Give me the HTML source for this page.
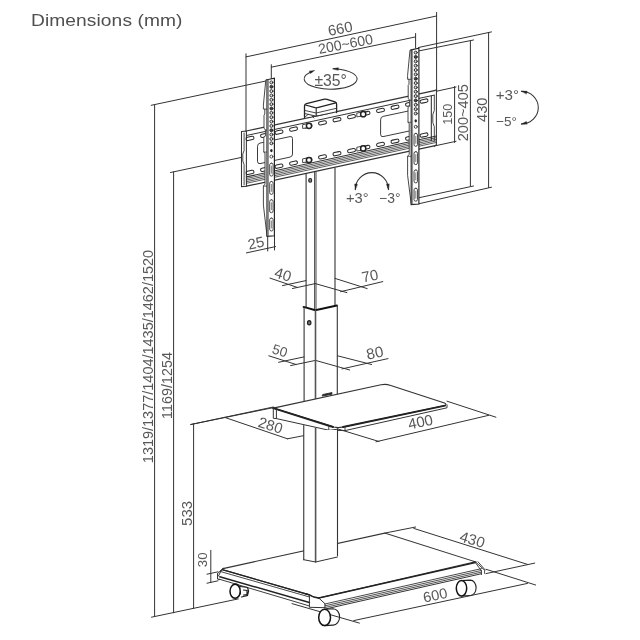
<!DOCTYPE html>
<html><head><meta charset="utf-8"><style>
html,body{margin:0;padding:0;background:#fff;width:640px;height:640px;overflow:hidden}
svg{position:absolute;left:0;top:0;will-change:transform}
text{font-family:"Liberation Sans",sans-serif}
</style></head><body>
<svg width="640" height="640" viewBox="0 0 640 640" stroke-linecap="round">
<line x1="151.20" y1="105.30" x2="266.00" y2="81.00" stroke="#333" stroke-width="1.0"/>
<line x1="154.60" y1="105.00" x2="154.60" y2="616.60" stroke="#333" stroke-width="1.0"/>
<line x1="170.50" y1="172.50" x2="241.50" y2="157.40" stroke="#333" stroke-width="1.0"/>
<line x1="173.60" y1="172.00" x2="173.60" y2="612.80" stroke="#333" stroke-width="1.0"/>
<line x1="190.80" y1="424.50" x2="274.00" y2="407.50" stroke="#333" stroke-width="1.0"/>
<line x1="193.60" y1="424.00" x2="193.60" y2="608.60" stroke="#333" stroke-width="1.0"/>
<line x1="151.50" y1="617.20" x2="238.30" y2="598.90" stroke="#333" stroke-width="1.0"/>
<line x1="210.80" y1="550.30" x2="210.80" y2="582.50" stroke="#333" stroke-width="1.0"/>
<line x1="207.00" y1="574.20" x2="218.00" y2="571.80" stroke="#333" stroke-width="1.0"/>
<line x1="207.00" y1="583.20" x2="218.00" y2="580.80" stroke="#333" stroke-width="1.0"/>
<line x1="246.00" y1="56.90" x2="436.50" y2="16.00" stroke="#333" stroke-width="1.0"/>
<line x1="246.00" y1="53.80" x2="246.00" y2="131.00" stroke="#333" stroke-width="1.0"/>
<line x1="436.60" y1="12.50" x2="436.60" y2="92.00" stroke="#333" stroke-width="1.0"/>
<line x1="271.30" y1="67.20" x2="415.60" y2="36.90" stroke="#333" stroke-width="1.0"/>
<line x1="271.30" y1="64.70" x2="271.30" y2="79.00" stroke="#333" stroke-width="1.0"/>
<line x1="415.60" y1="33.50" x2="415.60" y2="48.00" stroke="#333" stroke-width="1.0"/>
<line x1="418.50" y1="47.50" x2="491.50" y2="31.90" stroke="#333" stroke-width="1.0"/>
<line x1="488.60" y1="32.50" x2="488.60" y2="187.50" stroke="#333" stroke-width="1.0"/>
<line x1="418.70" y1="203.80" x2="491.50" y2="187.20" stroke="#333" stroke-width="1.0"/>
<line x1="418.50" y1="51.00" x2="473.50" y2="40.00" stroke="#333" stroke-width="1.0"/>
<line x1="470.40" y1="41.00" x2="470.40" y2="186.00" stroke="#333" stroke-width="1.0"/>
<line x1="418.70" y1="197.80" x2="473.50" y2="186.00" stroke="#333" stroke-width="1.0"/>
<line x1="436.60" y1="91.20" x2="456.00" y2="87.00" stroke="#333" stroke-width="1.0"/>
<line x1="454.60" y1="86.50" x2="454.60" y2="142.50" stroke="#333" stroke-width="1.0"/>
<line x1="436.60" y1="145.50" x2="456.00" y2="141.30" stroke="#333" stroke-width="1.0"/>
<path d="M312.2,71.5 A26.5,10.3 0 1 0 333.5,68.66" stroke="#333" stroke-width="1.05" fill="none" />
<path d="M314.50,70.60 L310.30,73.57 L309.41,71.34 Z" fill="#222" stroke="#222" stroke-width="0.4"/>
<path d="M332.80,68.70 L338.33,67.67 L338.26,70.06 Z" fill="#222" stroke="#222" stroke-width="0.4"/>
<path d="M355.3,189.6 A16.55,17 0 0 1 388.4,189.6" stroke="#333" stroke-width="1.05" fill="none" />
<path d="M355.30,189.60 L354.66,183.98 L357.25,184.29 Z" fill="#222" stroke="#222" stroke-width="0.4"/>
<path d="M388.40,189.60 L386.45,184.29 L389.04,183.98 Z" fill="#222" stroke="#222" stroke-width="0.4"/>
<path d="M521.4,91.2 A16.9,16.4 0 0 1 521.4,124" stroke="#333" stroke-width="1.05" fill="none" />
<path d="M521.40,91.20 L527.05,91.27 L526.42,93.80 Z" fill="#222" stroke="#222" stroke-width="0.4"/>
<path d="M521.40,124.00 L526.42,121.40 L527.05,123.93 Z" fill="#222" stroke="#222" stroke-width="0.4"/>
<line x1="246.40" y1="252.90" x2="275.50" y2="246.60" stroke="#333" stroke-width="1.0"/>
<line x1="267.70" y1="235.70" x2="267.70" y2="251.00" stroke="#333" stroke-width="1.0"/>
<line x1="274.50" y1="235.70" x2="274.50" y2="250.00" stroke="#333" stroke-width="1.0"/>
<line x1="270.00" y1="278.10" x2="297.50" y2="287.50" stroke="#333" stroke-width="1.0"/>
<line x1="282.50" y1="285.60" x2="306.00" y2="280.60" stroke="#333" stroke-width="1.0"/>
<line x1="292.50" y1="288.50" x2="315.30" y2="283.60" stroke="#333" stroke-width="1.0"/>
<line x1="315.30" y1="283.60" x2="346.90" y2="292.60" stroke="#333" stroke-width="1.0"/>
<line x1="335.00" y1="278.40" x2="367.20" y2="288.60" stroke="#333" stroke-width="1.0"/>
<line x1="340.60" y1="291.70" x2="382.80" y2="281.60" stroke="#333" stroke-width="1.0"/>
<line x1="268.80" y1="355.80" x2="296.10" y2="364.50" stroke="#333" stroke-width="1.0"/>
<line x1="278.60" y1="362.30" x2="304.00" y2="356.90" stroke="#333" stroke-width="1.0"/>
<line x1="290.60" y1="365.60" x2="315.50" y2="360.40" stroke="#333" stroke-width="1.0"/>
<line x1="315.50" y1="360.40" x2="349.70" y2="370.00" stroke="#333" stroke-width="1.0"/>
<line x1="337.50" y1="355.80" x2="371.60" y2="364.50" stroke="#333" stroke-width="1.0"/>
<line x1="342.00" y1="368.90" x2="388.00" y2="358.60" stroke="#333" stroke-width="1.0"/>
<path d="M241.5,131.5 L246.4,131 L246.4,186.2 L241.5,186.6 Z" stroke="#333" stroke-width="1.05" fill="none" />
<path d="M244.1,133 L244.1,150.5 L242.8,154 L242.8,161 L244.1,164.5 L244.1,185" stroke="#333" stroke-width="0.9" fill="none" />
<line x1="246.40" y1="131.00" x2="434.40" y2="90.58" stroke="#333" stroke-width="1.2"/>
<line x1="246.40" y1="135.50" x2="434.40" y2="95.08" stroke="#333" stroke-width="1.0"/>
<line x1="246.40" y1="176.90" x2="436.40" y2="136.05" stroke="#333" stroke-width="1.1"/>
<line x1="246.40" y1="178.50" x2="436.40" y2="137.65" stroke="#333" stroke-width="0.8"/>
<line x1="246.40" y1="180.10" x2="436.40" y2="139.25" stroke="#333" stroke-width="0.8"/>
<line x1="246.40" y1="181.70" x2="436.40" y2="140.85" stroke="#333" stroke-width="0.8"/>
<line x1="246.40" y1="183.30" x2="436.40" y2="142.45" stroke="#333" stroke-width="0.8"/>
<line x1="246.40" y1="186.20" x2="436.40" y2="145.35" stroke="#333" stroke-width="1.3"/>
<path d="M434.4,90.6 L436.4,89.8 L436.4,144.6 L434.4,146.3" stroke="#333" stroke-width="1.05" fill="none" />
<path d="M431.3,96.2 L431.3,140.5" stroke="#222" stroke-width="1.0" fill="none" />
<path d="M434.3,95.5 L434.3,110.4 L432.8,114.5 L432.8,122.6 L434.3,126.7 L434.3,141" stroke="#333" stroke-width="0.9" fill="none" />
<rect x="246.00" y="136.78" width="8" height="3.3" rx="1.65" stroke="#2a2a2a" stroke-width="1.05" fill="none" transform="rotate(-12.13 250.00 138.43)"/>
<rect x="246.00" y="170.78" width="8" height="3.3" rx="1.65" stroke="#2a2a2a" stroke-width="1.05" fill="none" transform="rotate(-12.13 250.00 172.43)"/>
<rect x="260.50" y="133.66" width="8" height="3.3" rx="1.65" stroke="#2a2a2a" stroke-width="1.05" fill="none" transform="rotate(-12.13 264.50 135.31)"/>
<rect x="260.50" y="167.66" width="8" height="3.3" rx="1.65" stroke="#2a2a2a" stroke-width="1.05" fill="none" transform="rotate(-12.13 264.50 169.31)"/>
<rect x="275.00" y="130.54" width="8" height="3.3" rx="1.65" stroke="#2a2a2a" stroke-width="1.05" fill="none" transform="rotate(-12.13 279.00 132.19)"/>
<rect x="275.00" y="164.54" width="8" height="3.3" rx="1.65" stroke="#2a2a2a" stroke-width="1.05" fill="none" transform="rotate(-12.13 279.00 166.19)"/>
<rect x="289.50" y="127.42" width="8" height="3.3" rx="1.65" stroke="#2a2a2a" stroke-width="1.05" fill="none" transform="rotate(-12.13 293.50 129.07)"/>
<rect x="289.50" y="161.42" width="8" height="3.3" rx="1.65" stroke="#2a2a2a" stroke-width="1.05" fill="none" transform="rotate(-12.13 293.50 163.07)"/>
<rect x="304.00" y="124.31" width="8" height="3.3" rx="1.65" stroke="#2a2a2a" stroke-width="1.05" fill="none" transform="rotate(-12.13 308.00 125.96)"/>
<rect x="304.00" y="158.31" width="8" height="3.3" rx="1.65" stroke="#2a2a2a" stroke-width="1.05" fill="none" transform="rotate(-12.13 308.00 159.96)"/>
<rect x="318.50" y="121.19" width="8" height="3.3" rx="1.65" stroke="#2a2a2a" stroke-width="1.05" fill="none" transform="rotate(-12.13 322.50 122.84)"/>
<rect x="318.50" y="155.19" width="8" height="3.3" rx="1.65" stroke="#2a2a2a" stroke-width="1.05" fill="none" transform="rotate(-12.13 322.50 156.84)"/>
<rect x="333.00" y="118.07" width="8" height="3.3" rx="1.65" stroke="#2a2a2a" stroke-width="1.05" fill="none" transform="rotate(-12.13 337.00 119.72)"/>
<rect x="333.00" y="152.07" width="8" height="3.3" rx="1.65" stroke="#2a2a2a" stroke-width="1.05" fill="none" transform="rotate(-12.13 337.00 153.72)"/>
<rect x="347.50" y="114.95" width="8" height="3.3" rx="1.65" stroke="#2a2a2a" stroke-width="1.05" fill="none" transform="rotate(-12.13 351.50 116.60)"/>
<rect x="347.50" y="148.95" width="8" height="3.3" rx="1.65" stroke="#2a2a2a" stroke-width="1.05" fill="none" transform="rotate(-12.13 351.50 150.60)"/>
<rect x="362.00" y="111.84" width="8" height="3.3" rx="1.65" stroke="#2a2a2a" stroke-width="1.05" fill="none" transform="rotate(-12.13 366.00 113.49)"/>
<rect x="362.00" y="145.84" width="8" height="3.3" rx="1.65" stroke="#2a2a2a" stroke-width="1.05" fill="none" transform="rotate(-12.13 366.00 147.49)"/>
<rect x="376.50" y="108.72" width="8" height="3.3" rx="1.65" stroke="#2a2a2a" stroke-width="1.05" fill="none" transform="rotate(-12.13 380.50 110.37)"/>
<rect x="376.50" y="142.72" width="8" height="3.3" rx="1.65" stroke="#2a2a2a" stroke-width="1.05" fill="none" transform="rotate(-12.13 380.50 144.37)"/>
<rect x="391.00" y="105.60" width="8" height="3.3" rx="1.65" stroke="#2a2a2a" stroke-width="1.05" fill="none" transform="rotate(-12.13 395.00 107.25)"/>
<rect x="391.00" y="139.60" width="8" height="3.3" rx="1.65" stroke="#2a2a2a" stroke-width="1.05" fill="none" transform="rotate(-12.13 395.00 141.25)"/>
<rect x="405.50" y="102.48" width="8" height="3.3" rx="1.65" stroke="#2a2a2a" stroke-width="1.05" fill="none" transform="rotate(-12.13 409.50 104.13)"/>
<rect x="405.50" y="136.48" width="8" height="3.3" rx="1.65" stroke="#2a2a2a" stroke-width="1.05" fill="none" transform="rotate(-12.13 409.50 138.13)"/>
<rect x="420.00" y="99.37" width="8" height="3.3" rx="1.65" stroke="#2a2a2a" stroke-width="1.05" fill="none" transform="rotate(-12.13 424.00 101.02)"/>
<rect x="420.00" y="133.37" width="8" height="3.3" rx="1.65" stroke="#2a2a2a" stroke-width="1.05" fill="none" transform="rotate(-12.13 424.00 135.02)"/>
<path d="M257.5,146.1 Q257.5,143.6 260.0,143.1 L290.0,136.6 Q292.5,136.1 292.5,138.6 L292.5,154.1 Q292.5,156.6 290.0,157.1 L260.0,163.6 Q257.5,164.1 257.5,161.6 Z" stroke="#333" stroke-width="0.95" fill="#fff"/>
<path d="M380.6,119.4 Q380.6,116.9 383.1,116.4 L413.1,110.0 Q415.6,109.4 415.6,111.9 L415.6,127.1 Q415.6,129.6 413.1,130.2 L383.1,136.6 Q380.6,137.1 380.6,134.6 Z" stroke="#333" stroke-width="0.95" fill="#fff"/>
<path d="M303,124.6 L308,123.6 L308,127.6 L303,128.4 Z" stroke="#333" stroke-width="0.9" fill="#fff"/>
<circle cx="309" cy="125.8" r="2.6" stroke="#222" stroke-width="1.5" fill="#fff"/>
<path d="M303,158.8 L308,157.8 L308,161.8 L303,162.6 Z" stroke="#333" stroke-width="0.9" fill="#fff"/>
<circle cx="309" cy="160.0" r="2.6" stroke="#222" stroke-width="1.5" fill="#fff"/>
<path d="M357.2,113.0 L362.2,112.0 L362.2,116.0 L357.2,116.8 Z" stroke="#333" stroke-width="0.9" fill="#fff"/>
<circle cx="363.2" cy="114.2" r="2.6" stroke="#222" stroke-width="1.5" fill="#fff"/>
<path d="M357.2,147.2 L362.2,146.2 L362.2,150.2 L357.2,151.0 Z" stroke="#333" stroke-width="0.9" fill="#fff"/>
<circle cx="363.2" cy="148.4" r="2.6" stroke="#222" stroke-width="1.5" fill="#fff"/>
<path d="M304.5,117.5 L304.5,106 Q304.5,104.2 306.5,103.7 L324.5,99.2 Q325.8,98.9 327,99.3 L335,101.8 Q336.6,102.3 336.6,104 L336.6,112.5" stroke="#222" stroke-width="1.3" fill="#fff" />
<path d="M305.5,105 L315,107.6 Q316.2,107.9 317.5,107.6 L335.8,102.8" stroke="#222" stroke-width="1.2" fill="none" />
<path d="M316.2,107.9 L316.2,115.5" stroke="#222" stroke-width="1.1" fill="none" />
<path d="M305,110.5 L316.2,113 L336.4,108.3" stroke="#333" stroke-width="0.9" fill="none" />
<path d="M304.5,113.5 L316.2,116.2 L336.6,111.8" stroke="#333" stroke-width="1.0" fill="none" />
<path d="M304.5,117.5 L308,114.5 M312,116 L314,118" stroke="#333" stroke-width="0.9" fill="none" />
<path d="M267.0,79.69999999999999 L265.8,79.89999999999999 L263.4,105.1 L263.4,109.1 L264.8,109.1 L264.8,114.1 L264.0,115.1 L264.0,128.1 L265.4,130.1 L265.4,136.1 L263.8,137.1 L263.8,152.1 L265.0,153.1 L265.0,184.1 L263.4,186.1 L263.4,205.1 L267.0,235.7" stroke="#333" stroke-width="0.9" fill="#fff" />
<path d="M265.4,130.1 L267.0,130.1 M264.8,109.1 L267.0,109.1 M263.8,152.1 L267.0,152.1 M263.4,186.1 L267.0,186.1" stroke="#333" stroke-width="0.8" fill="none" />
<path d="M267.0,79.69999999999999 L274.4,78.1 L274.4,235.7 L267.0,236.29999999999998 Z" stroke="#222" stroke-width="1.15" fill="#fff" />
<line x1="268.40" y1="79.50" x2="268.40" y2="236.10" stroke="#555" stroke-width="0.7"/>
<circle cx="271.40" cy="82.40" r="1.5" stroke="#2a2a2a" stroke-width="0.95" fill="#ddd"/>
<circle cx="271.40" cy="86.75" r="1.5" stroke="#2a2a2a" stroke-width="0.95" fill="#444"/>
<circle cx="271.40" cy="91.10" r="1.5" stroke="#2a2a2a" stroke-width="0.95" fill="#ddd"/>
<circle cx="271.40" cy="95.45" r="1.5" stroke="#2a2a2a" stroke-width="0.95" fill="#ddd"/>
<circle cx="271.40" cy="99.80" r="1.5" stroke="#2a2a2a" stroke-width="0.95" fill="#ddd"/>
<circle cx="271.40" cy="104.15" r="1.5" stroke="#2a2a2a" stroke-width="0.95" fill="#ddd"/>
<circle cx="271.40" cy="108.50" r="1.5" stroke="#2a2a2a" stroke-width="0.95" fill="#444"/>
<circle cx="271.40" cy="112.85" r="1.5" stroke="#2a2a2a" stroke-width="0.95" fill="#ddd"/>
<circle cx="271.40" cy="117.20" r="1.5" stroke="#2a2a2a" stroke-width="0.95" fill="#ddd"/>
<circle cx="271.40" cy="121.55" r="1.5" stroke="#2a2a2a" stroke-width="0.95" fill="#ddd"/>
<circle cx="271.40" cy="125.90" r="1.5" stroke="#2a2a2a" stroke-width="0.95" fill="#ddd"/>
<circle cx="271.40" cy="130.25" r="1.5" stroke="#2a2a2a" stroke-width="0.95" fill="#444"/>
<circle cx="271.40" cy="134.60" r="1.5" stroke="#2a2a2a" stroke-width="0.95" fill="#ddd"/>
<circle cx="271.40" cy="138.95" r="1.5" stroke="#2a2a2a" stroke-width="0.95" fill="#ddd"/>
<circle cx="271.40" cy="143.30" r="1.5" stroke="#2a2a2a" stroke-width="0.95" fill="#ddd"/>
<ellipse cx="271.40" cy="150.60" rx="1.2" ry="1.6" fill="#222"/>
<circle cx="271.40" cy="156.60" r="1.5" stroke="#333" stroke-width="0.85" fill="none"/>
<rect x="269.70" y="163.10" width="3.4" height="13" rx="1.7" stroke="#333" stroke-width="0.9" fill="none"/>
<line x1="271.40" y1="166.10" x2="271.40" y2="173.10" stroke="#666" stroke-width="0.8"/>
<rect x="269.70" y="181.40" width="3.4" height="13" rx="1.7" stroke="#333" stroke-width="0.9" fill="none"/>
<line x1="271.40" y1="184.40" x2="271.40" y2="191.40" stroke="#666" stroke-width="0.8"/>
<rect x="269.70" y="199.70" width="3.4" height="13" rx="1.7" stroke="#333" stroke-width="0.9" fill="none"/>
<line x1="271.40" y1="202.70" x2="271.40" y2="209.70" stroke="#666" stroke-width="0.8"/>
<rect x="269.70" y="218.00" width="3.4" height="13" rx="1.7" stroke="#333" stroke-width="0.9" fill="none"/>
<line x1="271.40" y1="221.00" x2="271.40" y2="228.00" stroke="#666" stroke-width="0.8"/>
<path d="M411.2,49.9 L410.0,50.099999999999994 L407.59999999999997,75.3 L407.59999999999997,79.3 L409.0,79.3 L409.0,84.3 L408.2,85.3 L408.2,98.3 L409.59999999999997,100.3 L409.59999999999997,106.3 L408.0,107.3 L408.0,122.3 L409.2,123.3 L409.2,154.3 L407.59999999999997,156.3 L407.59999999999997,175.3 L411.2,204.0" stroke="#333" stroke-width="0.9" fill="#fff" />
<path d="M409.59999999999997,100.3 L411.2,100.3 M409.0,79.3 L411.2,79.3 M408.0,122.3 L411.2,122.3 M407.59999999999997,156.3 L411.2,156.3" stroke="#333" stroke-width="0.8" fill="none" />
<path d="M411.2,49.9 L418.9,48.3 L418.9,204.0 L411.2,204.6 Z" stroke="#222" stroke-width="1.15" fill="#fff" />
<line x1="412.60" y1="49.70" x2="412.60" y2="204.40" stroke="#555" stroke-width="0.7"/>
<circle cx="415.75" cy="52.60" r="1.5" stroke="#2a2a2a" stroke-width="0.95" fill="#ddd"/>
<circle cx="415.75" cy="56.95" r="1.5" stroke="#2a2a2a" stroke-width="0.95" fill="#444"/>
<circle cx="415.75" cy="61.30" r="1.5" stroke="#2a2a2a" stroke-width="0.95" fill="#ddd"/>
<circle cx="415.75" cy="65.65" r="1.5" stroke="#2a2a2a" stroke-width="0.95" fill="#ddd"/>
<circle cx="415.75" cy="70.00" r="1.5" stroke="#2a2a2a" stroke-width="0.95" fill="#ddd"/>
<circle cx="415.75" cy="74.35" r="1.5" stroke="#2a2a2a" stroke-width="0.95" fill="#ddd"/>
<circle cx="415.75" cy="78.70" r="1.5" stroke="#2a2a2a" stroke-width="0.95" fill="#444"/>
<circle cx="415.75" cy="83.05" r="1.5" stroke="#2a2a2a" stroke-width="0.95" fill="#ddd"/>
<circle cx="415.75" cy="87.40" r="1.5" stroke="#2a2a2a" stroke-width="0.95" fill="#ddd"/>
<circle cx="415.75" cy="91.75" r="1.5" stroke="#2a2a2a" stroke-width="0.95" fill="#ddd"/>
<circle cx="415.75" cy="96.10" r="1.5" stroke="#2a2a2a" stroke-width="0.95" fill="#ddd"/>
<circle cx="415.75" cy="100.45" r="1.5" stroke="#2a2a2a" stroke-width="0.95" fill="#444"/>
<circle cx="415.75" cy="104.80" r="1.5" stroke="#2a2a2a" stroke-width="0.95" fill="#ddd"/>
<circle cx="415.75" cy="109.15" r="1.5" stroke="#2a2a2a" stroke-width="0.95" fill="#ddd"/>
<circle cx="415.75" cy="113.50" r="1.5" stroke="#2a2a2a" stroke-width="0.95" fill="#ddd"/>
<ellipse cx="415.75" cy="120.80" rx="1.2" ry="1.6" fill="#222"/>
<circle cx="415.75" cy="126.80" r="1.5" stroke="#333" stroke-width="0.85" fill="none"/>
<rect x="414.05" y="133.30" width="3.4" height="13" rx="1.7" stroke="#333" stroke-width="0.9" fill="none"/>
<line x1="415.75" y1="136.30" x2="415.75" y2="143.30" stroke="#666" stroke-width="0.8"/>
<rect x="414.05" y="151.60" width="3.4" height="13" rx="1.7" stroke="#333" stroke-width="0.9" fill="none"/>
<line x1="415.75" y1="154.60" x2="415.75" y2="161.60" stroke="#666" stroke-width="0.8"/>
<rect x="414.05" y="169.90" width="3.4" height="13" rx="1.7" stroke="#333" stroke-width="0.9" fill="none"/>
<line x1="415.75" y1="172.90" x2="415.75" y2="179.90" stroke="#666" stroke-width="0.8"/>
<rect x="414.05" y="188.20" width="3.4" height="13" rx="1.7" stroke="#333" stroke-width="0.9" fill="none"/>
<line x1="415.75" y1="191.20" x2="415.75" y2="198.20" stroke="#666" stroke-width="0.8"/>
<line x1="306.10" y1="173.60" x2="306.10" y2="306.90" stroke="#333" stroke-width="1.1"/>
<line x1="314.60" y1="171.70" x2="314.60" y2="310.00" stroke="#333" stroke-width="0.9"/>
<line x1="316.00" y1="171.70" x2="316.00" y2="310.00" stroke="#333" stroke-width="0.9"/>
<line x1="335.00" y1="168.00" x2="335.00" y2="305.50" stroke="#333" stroke-width="1.1"/>
<ellipse cx="310.2" cy="180.4" rx="1.5" ry="1.9" stroke="#222" stroke-width="1.1" fill="#888"/>
<path d="M303.6,306.9 L315.3,310.2 L336.9,305.5" stroke="#111" stroke-width="2.0" fill="none" />
<line x1="304.10" y1="307.00" x2="304.10" y2="401.50" stroke="#333" stroke-width="1.1"/>
<line x1="315.50" y1="310.00" x2="315.50" y2="399.00" stroke="#555" stroke-width="1.6"/>
<line x1="337.30" y1="305.50" x2="337.30" y2="394.30" stroke="#333" stroke-width="1.1"/>
<ellipse cx="309.2" cy="322.8" rx="1.7" ry="2.1" stroke="#222" stroke-width="1.2" fill="#777"/>
<path d="M273.3,408.1 L381,384.8 Q386,383.8 390,385.2 L444.5,403 Q447,404 445,405.6 L343,427 Q338,428 334,427 Z" stroke="#333" stroke-width="1.1" fill="#fff" />
<path d="M273.3,408.1 L333,427" stroke="#222" stroke-width="2.0" fill="none" />
<path d="M343,427 L445,405.6" stroke="#222" stroke-width="1.8" fill="none" />
<path d="M273.3,408.1 L273.3,418.3 L276.4,418.6 L276.4,409" stroke="#333" stroke-width="1.0" fill="none" />
<path d="M276.4,418.6 L328.75,430.2 L345,430.6 L447,407.8 L447,404.8" stroke="#333" stroke-width="1.0" fill="none" />
<path d="M328.75,426.5 L328.75,430.2 M345,426.8 L345,430.6" stroke="#333" stroke-width="0.9" fill="none" />
<path d="M322.5,396 L331.9,394.2 L332,392.6 L323,394.5 Z" stroke="#333" stroke-width="1.0" fill="#222" />
<line x1="190.80" y1="424.50" x2="273.30" y2="407.00" stroke="#333" stroke-width="1.0"/>
<line x1="225.00" y1="417.50" x2="287.50" y2="438.80" stroke="#333" stroke-width="1.0"/>
<line x1="287.50" y1="438.80" x2="338.00" y2="429.00" stroke="#333" stroke-width="1.0"/>
<line x1="447.00" y1="401.20" x2="495.90" y2="417.20" stroke="#333" stroke-width="1.0"/>
<line x1="338.00" y1="429.00" x2="379.00" y2="441.50" stroke="#333" stroke-width="1.0"/>
<line x1="376.00" y1="441.80" x2="488.75" y2="415.30" stroke="#333" stroke-width="1.0"/>
<path d="M223,568.6 L384.7,533.1 L475.4,561.8 L318.75,598.00 Q313,597.6 309.4,594.86 L223,569.8 Q220,570.5 220.5,571.5 Z" stroke="#333" stroke-width="1.1" fill="#fff" />
<path d="M223,569.8 L309.4,594.86" stroke="#222" stroke-width="1.25" fill="none" />
<path d="M221,571.7 L309.4,596.96" stroke="#333" stroke-width="0.9" fill="none" />
<path d="M219.8,576.8 L309.4,602.46" stroke="#222" stroke-width="1.5" fill="none" />
<path d="M219,579.1 L309.4,605.96" stroke="#333" stroke-width="0.95" fill="none" />
<path d="M217.5,573.7 L223,568.4 M217.5,573.7 L217.5,579.1 L219.5,579.6 M220.6,571.7 L218.5,576" stroke="#333" stroke-width="1.0" fill="none" />
<path d="M305,593.58 L309.4,594.86 Q313,597.8 318.75,598.00" stroke="#222" stroke-width="1.3" fill="none" />
<path d="M309.4,594.86 L309.4,607.3 L325,607.7 L325,603.75 L318.75,598.00" stroke="#333" stroke-width="1.0" fill="none" />
<path d="M318.75,598.00 L475.4,562.6" stroke="#222" stroke-width="1.35" fill="none" />
<path d="M325,603.99 L481.4,568.64" stroke="#333" stroke-width="0.9" fill="none" />
<path d="M325,605.79 L481.4,570.44" stroke="#333" stroke-width="0.85" fill="none" />
<path d="M325,607.49 L481.4,572.14" stroke="#333" stroke-width="0.85" fill="none" />
<path d="M325,609.09 L481.4,573.74" stroke="#333" stroke-width="1.0" fill="none" />
<path d="M475.4,561.8 L484.6,570.2 L484.6,573.4 M475.4,562.6 L481.4,570.8 L481.4,574.6 M478,561.8 L485.2,570" stroke="#333" stroke-width="0.9" fill="none" />
<line x1="292.00" y1="603.60" x2="359.40" y2="623.10" stroke="#333" stroke-width="1.0"/>
<path d="M235.1,584.3 L235.1,583.8 A5.699999999999999,7.0 0 0 1 235.1,597.8 L235.1,598.3" stroke="#222" stroke-width="1.1" fill="none"/>
<ellipse cx="235.1" cy="591.3" rx="5.1" ry="7.0" stroke="#111" stroke-width="1.5" fill="#fff"/>
<path d="M240.5,586.5 L247.5,587.5 L248.6,591 L247.5,595.5 L241.5,597 M243.5,590 L247,590.5 L247,594.5 L243.5,595" stroke="#222" stroke-width="1.2" fill="#fff" />
<path d="M324.6,609.1999999999999 L333.1,608.6999999999999 A6.5,8.2 0 0 1 333.1,625.1 L324.6,625.6" stroke="#222" stroke-width="1.1" fill="none"/>
<ellipse cx="324.6" cy="617.4" rx="5.9" ry="8.2" stroke="#111" stroke-width="1.5" fill="#fff"/>
<path d="M461.5,580.5999999999999 L470.3,580.0999999999999 A5.8,7.7 0 0 1 470.3,595.5 L461.5,596.0" stroke="#222" stroke-width="1.1" fill="none"/>
<ellipse cx="461.5" cy="588.3" rx="5.2" ry="7.7" stroke="#111" stroke-width="1.5" fill="#fff"/>
<path d="M303.75,430 L337.5,430 L337.5,557 L315.6,562 L303.75,559.7 Z" stroke="none" stroke-width="0" fill="#fff" />
<line x1="303.75" y1="425.60" x2="303.75" y2="559.70" stroke="#333" stroke-width="1.1"/>
<line x1="315.60" y1="428.00" x2="315.60" y2="562.00" stroke="#555" stroke-width="1.6"/>
<line x1="337.50" y1="428.70" x2="337.50" y2="555.50" stroke="#333" stroke-width="1.1"/>
<path d="M303.75,559.7 L315.6,562 L337.5,557" stroke="#333" stroke-width="1.0" fill="none" />
<line x1="384.70" y1="533.10" x2="415.60" y2="527.00" stroke="#333" stroke-width="1.0"/>
<line x1="413.75" y1="528.40" x2="527.50" y2="564.40" stroke="#333" stroke-width="1.0"/>
<line x1="486.00" y1="573.60" x2="534.70" y2="563.10" stroke="#333" stroke-width="1.0"/>
<line x1="486.00" y1="569.30" x2="535.60" y2="585.00" stroke="#333" stroke-width="1.0"/>
<line x1="353.75" y1="620.60" x2="527.50" y2="583.40" stroke="#333" stroke-width="1.0"/>
<text x="341.20" y="33.60" font-size="14.91" text-anchor="middle" fill="#585858" transform="rotate(-11 341.20 33.60)">660</text>
<text x="346.50" y="48.70" font-size="14.11" text-anchor="middle" fill="#585858" transform="rotate(-11 346.50 48.70)">200~600</text>
<text x="330.70" y="85.60" font-size="15.76" text-anchor="middle" fill="#585858" transform="rotate(0 330.70 85.60)">±35°</text>
<text x="507.40" y="100.00" font-size="15.11" text-anchor="middle" fill="#585858" transform="rotate(0 507.40 100.00)">+3°</text>
<text x="506.60" y="125.50" font-size="13.55" text-anchor="middle" fill="#585858" transform="rotate(0 506.60 125.50)">−5°</text>
<text x="357.30" y="202.80" font-size="14.68" text-anchor="middle" fill="#585858" transform="rotate(0 357.30 202.80)">+3°</text>
<text x="389.80" y="202.80" font-size="13.89" text-anchor="middle" fill="#585858" transform="rotate(0 389.80 202.80)">−3°</text>
<text x="451.60" y="114.30" font-size="12.66" text-anchor="middle" fill="#585858" transform="rotate(-90 451.60 114.30)">150</text>
<text x="468.40" y="112.70" font-size="14.55" text-anchor="middle" fill="#585858" transform="rotate(-90 468.40 112.70)">200~405</text>
<text x="486.60" y="109.70" font-size="14.61" text-anchor="middle" fill="#585858" transform="rotate(-90 486.60 109.70)">430</text>
<text x="257.00" y="248.00" font-size="14.79" text-anchor="middle" fill="#585858" transform="rotate(-12 257.00 248.00)">25</text>
<text x="281.50" y="279.50" font-size="15.04" text-anchor="middle" fill="#585858" transform="rotate(17 281.50 279.50)">40</text>
<text x="371.00" y="280.90" font-size="14.91" text-anchor="middle" fill="#585858" transform="rotate(-12 371.00 280.90)">70</text>
<text x="278.60" y="355.30" font-size="13.72" text-anchor="middle" fill="#585858" transform="rotate(17 278.60 355.30)">50</text>
<text x="375.90" y="358.00" font-size="15.27" text-anchor="middle" fill="#585858" transform="rotate(-12 375.90 358.00)">80</text>
<text x="269.00" y="430.20" font-size="14.79" text-anchor="middle" fill="#585858" transform="rotate(17 269.00 430.20)">280</text>
<text x="421.50" y="427.00" font-size="15.06" text-anchor="middle" fill="#585858" transform="rotate(-12 421.50 427.00)">400</text>
<text x="470.90" y="544.60" font-size="15.11" text-anchor="middle" fill="#585858" transform="rotate(17 470.90 544.60)">430</text>
<text x="436.20" y="600.10" font-size="14.65" text-anchor="middle" fill="#585858" transform="rotate(-12 436.20 600.10)">600</text>
<text x="153.10" y="356.50" font-size="14.47" text-anchor="middle" fill="#585858" transform="rotate(-90 153.10 356.50)">1319/1377/1404/1435/1462/1520</text>
<text x="171.50" y="385.50" font-size="14.35" text-anchor="middle" fill="#585858" transform="rotate(-90 171.50 385.50)">1169/1254</text>
<text x="191.60" y="513.40" font-size="14.96" text-anchor="middle" fill="#585858" transform="rotate(-90 191.60 513.40)">533</text>
<text x="207.10" y="559.80" font-size="13.25" text-anchor="middle" fill="#585858" transform="rotate(-90 207.10 559.80)">30</text>
<text x="0" y="0" font-size="16" letter-spacing="0.07" fill="#505050" transform="translate(31 26.3) scale(1.2 1)">Dimensions (mm)</text>
</svg>
</body></html>
